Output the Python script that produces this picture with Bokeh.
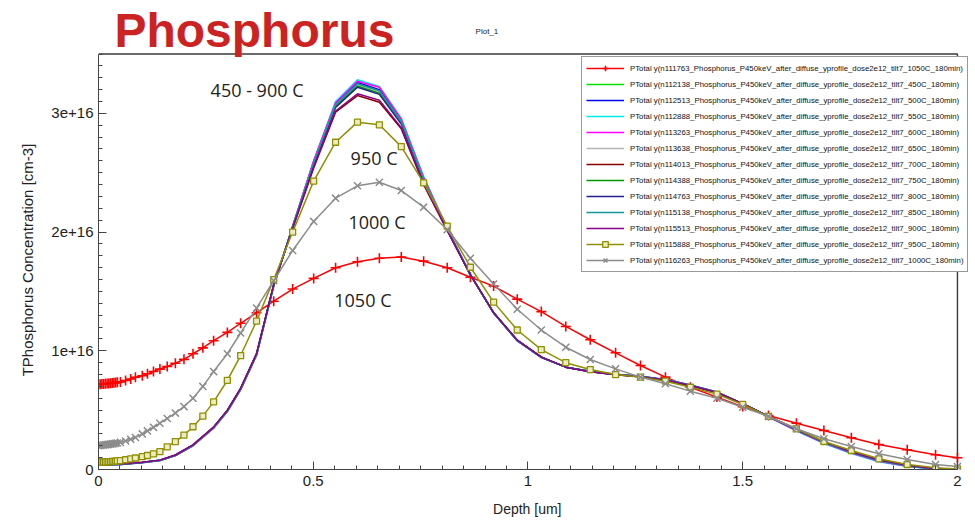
from bokeh.plotting import figure
from bokeh.models import FixedTicker, Label, Legend, LegendItem, ColumnDataSource
from bokeh.embed import file_html
from bokeh.resources import INLINE

# ---------------- data (concentration in units of 1e16 cm-3) ----------------
X_MESH = [0, 0.004, 0.008, 0.012, 0.016, 0.020, 0.024, 0.028, 0.032, 0.036, 0.040, 0.044,
          0.051, 0.063, 0.075, 0.086, 0.102, 0.114, 0.128, 0.143, 0.160, 0.179, 0.199,
          0.220, 0.243, 0.268, 0.300, 0.331, 0.368, 0.408, 0.452, 0.501, 0.552, 0.603,
          0.654, 0.705, 0.757, 0.812, 0.866, 0.920, 0.975, 1.031, 1.088, 1.145, 1.204,
          1.262, 1.320, 1.378, 1.440, 1.500, 1.560, 1.625, 1.689, 1.753, 1.817, 1.883,
          1.949, 2.000]

Y_1050 = [0.716, 0.718, 0.720, 0.721, 0.722, 0.724, 0.725, 0.727, 0.728, 0.730, 0.732, 0.734,
          0.738, 0.750, 0.763, 0.777, 0.790, 0.806, 0.826, 0.846, 0.868, 0.895, 0.928,
          0.975, 1.025, 1.085, 1.155, 1.232, 1.320, 1.418, 1.520, 1.610, 1.700, 1.750,
          1.780, 1.790, 1.755, 1.700, 1.620, 1.545, 1.435, 1.330, 1.205, 1.093, 0.983,
          0.876, 0.778, 0.693, 0.610, 0.530, 0.455, 0.390, 0.329, 0.267, 0.210, 0.166,
          0.124, 0.099]

Y_1000 = [0.200, 0.202, 0.204, 0.206, 0.208, 0.210, 0.212, 0.214, 0.216, 0.218, 0.221, 0.223,
          0.228, 0.240, 0.255, 0.270, 0.300, 0.325, 0.355, 0.390, 0.430, 0.475, 0.530,
          0.600, 0.700, 0.825, 0.975, 1.150, 1.360, 1.590, 1.845, 2.090, 2.286, 2.390,
          2.420, 2.350, 2.210, 2.020, 1.780, 1.563, 1.350, 1.175, 1.030, 0.927, 0.848,
          0.778, 0.722, 0.660, 0.600, 0.525, 0.447, 0.343, 0.259, 0.194, 0.132, 0.084,
          0.042, 0.025]

Y_950 = [0.060, 0.061, 0.062, 0.063, 0.064, 0.065, 0.066, 0.067, 0.068, 0.069, 0.070, 0.072,
         0.075, 0.082, 0.090, 0.097, 0.108, 0.118, 0.132, 0.150, 0.190, 0.235, 0.290,
         0.360, 0.450, 0.570, 0.750, 0.960, 1.250, 1.600, 2.000, 2.430, 2.757, 2.926,
         2.904, 2.720, 2.415, 2.050, 1.704, 1.410, 1.175, 1.010, 0.900, 0.842, 0.800,
         0.778, 0.744, 0.693, 0.635, 0.548, 0.447, 0.343, 0.236, 0.160, 0.090, 0.042,
         0.014, 0.005]

X_GROUP = [0, 0.051, 0.102, 0.143, 0.179, 0.220, 0.268, 0.300, 0.331, 0.368, 0.408, 0.452,
           0.501, 0.552, 0.603, 0.654, 0.705, 0.757, 0.812, 0.866, 0.920, 0.975, 1.031,
           1.088, 1.145, 1.204, 1.262, 1.320, 1.378, 1.440, 1.500, 1.560, 1.625, 1.689,
           1.753, 1.817, 1.883, 1.949, 2.000]

Y_450 = [0.038, 0.043, 0.058, 0.076, 0.118, 0.202, 0.350, 0.490, 0.675, 0.965, 1.550, 2.045, 2.590, 3.080, 3.250, 3.190, 2.930, 2.450, 2.025, 1.640, 1.318, 1.085, 0.945, 0.862, 0.826, 0.801, 0.784, 0.756, 0.710, 0.652, 0.553, 0.446, 0.332, 0.227, 0.143, 0.073, 0.031, 0.005, 0.000]
Y_500 = [0.038, 0.043, 0.058, 0.076, 0.118, 0.202, 0.350, 0.490, 0.675, 0.965, 1.550, 2.048, 2.595, 3.085, 3.260, 3.200, 2.940, 2.455, 2.028, 1.641, 1.319, 1.085, 0.945, 0.862, 0.826, 0.801, 0.784, 0.757, 0.711, 0.653, 0.553, 0.445, 0.330, 0.225, 0.141, 0.071, 0.030, 0.004, 0.000]
Y_550 = [0.037, 0.042, 0.057, 0.075, 0.117, 0.200, 0.348, 0.488, 0.672, 0.962, 1.545, 2.050, 2.600, 3.100, 3.283, 3.227, 2.960, 2.470, 2.032, 1.642, 1.318, 1.084, 0.944, 0.862, 0.827, 0.802, 0.785, 0.758, 0.712, 0.653, 0.552, 0.442, 0.325, 0.218, 0.134, 0.066, 0.026, 0.003, 0.000]
Y_600 = [0.037, 0.042, 0.057, 0.075, 0.117, 0.200, 0.348, 0.488, 0.672, 0.962, 1.545, 2.050, 2.600, 3.090, 3.270, 3.220, 2.950, 2.460, 2.030, 1.642, 1.318, 1.084, 0.944, 0.862, 0.827, 0.802, 0.785, 0.758, 0.712, 0.653, 0.553, 0.444, 0.328, 0.222, 0.138, 0.069, 0.028, 0.004, 0.000]
Y_650 = [0.039, 0.044, 0.059, 0.077, 0.119, 0.204, 0.352, 0.492, 0.678, 0.968, 1.555, 2.042, 2.580, 3.070, 3.245, 3.185, 2.930, 2.440, 2.024, 1.640, 1.319, 1.086, 0.946, 0.862, 0.825, 0.800, 0.783, 0.755, 0.709, 0.651, 0.553, 0.447, 0.334, 0.230, 0.146, 0.076, 0.034, 0.006, 0.000]
Y_700 = [0.041, 0.046, 0.061, 0.079, 0.122, 0.208, 0.358, 0.500, 0.686, 0.978, 1.560, 2.030, 2.540, 3.010, 3.150, 3.094, 2.870, 2.400, 2.012, 1.638, 1.322, 1.090, 0.948, 0.862, 0.824, 0.799, 0.782, 0.754, 0.707, 0.649, 0.554, 0.449, 0.337, 0.234, 0.150, 0.080, 0.037, 0.008, 0.000]
Y_750 = [0.040, 0.045, 0.060, 0.078, 0.120, 0.205, 0.355, 0.495, 0.680, 0.970, 1.555, 2.040, 2.570, 3.060, 3.230, 3.170, 2.920, 2.430, 2.020, 1.640, 1.320, 1.087, 0.946, 0.862, 0.825, 0.800, 0.783, 0.755, 0.708, 0.650, 0.553, 0.447, 0.334, 0.230, 0.146, 0.076, 0.034, 0.006, 0.000]
Y_800 = [0.040, 0.045, 0.060, 0.078, 0.121, 0.206, 0.356, 0.497, 0.682, 0.972, 1.556, 2.038, 2.570, 3.050, 3.220, 3.160, 2.910, 2.430, 2.018, 1.640, 1.321, 1.088, 0.947, 0.862, 0.825, 0.800, 0.783, 0.755, 0.708, 0.650, 0.554, 0.448, 0.335, 0.231, 0.147, 0.077, 0.035, 0.007, 0.000]
Y_850 = [0.039, 0.044, 0.059, 0.077, 0.119, 0.203, 0.352, 0.492, 0.678, 0.968, 1.552, 2.044, 2.580, 3.070, 3.250, 3.190, 2.930, 2.440, 2.024, 1.640, 1.319, 1.086, 0.945, 0.862, 0.826, 0.801, 0.784, 0.756, 0.709, 0.651, 0.553, 0.446, 0.333, 0.228, 0.144, 0.074, 0.032, 0.005, 0.000]
Y_900 = [0.041, 0.046, 0.061, 0.079, 0.122, 0.207, 0.357, 0.498, 0.684, 0.975, 1.558, 2.032, 2.550, 3.020, 3.165, 3.110, 2.880, 2.410, 2.015, 1.639, 1.321, 1.089, 0.947, 0.862, 0.824, 0.799, 0.782, 0.754, 0.707, 0.649, 0.554, 0.448, 0.336, 0.233, 0.149, 0.079, 0.036, 0.007, 0.000]

RUN_IDS = ["n111763", "n112138", "n112513", "n112888", "n113263", "n113638", "n114013",
           "n114388", "n114763", "n115138", "n115513", "n115888", "n116263"]
TEMPS = ["1050C", "450C", "500C", "550C", "600C", "650C", "700C", "750C", "800C",
         "850C", "900C", "950C", "1000C"]

Y_TICKS = [0, 1e16, 2e16, 3e16]
Y_TICK_LABELS = ["0", "1e+16", "2e+16", "3e+16"]
X_TICKS = [0, 0.5, 1, 1.5, 2]
X_TICK_LABELS = ["0", "0.5", "1", "1.5", "2"]

ANNOTATIONS = ["450 - 900 C", "950 C", "1000 C", "1050 C"]

# ---------------- figure ----------------
E16 = 1e16
NBSP = "\u00a0"
X_MAX, Y_MAX = 2.0, 3.5e16          # extent of the boxed plot area
# the canvas area above and right of the box also belongs to the frame so that
# the title, plot name and legend are not clipped
p = figure(width=975, height=521, x_range=(0, 2.042), y_range=(0, 3.951e16),
           output_backend="svg", toolbar_location=None,
           min_border_left=98, min_border_right=0, min_border_top=0, min_border_bottom=52)
p.background_fill_color = "white"
p.border_fill_color = "white"
p.outline_line_color = None
p.xgrid.visible = False
p.ygrid.visible = False

# top and right edges of the plot box (left/bottom are the axes)
p.line(x=[0, X_MAX, X_MAX], y=[Y_MAX, Y_MAX, 0],
       line_color="#3a3a3a", line_width=1.4)

for ax in (p.xaxis[0], p.yaxis[0]):
    ax.axis_line_color = "#444444"
    ax.major_tick_line_color = "#444444"
    ax.minor_tick_line_color = "#444444"
    ax.major_tick_in = 8
    ax.major_tick_out = 0
    ax.minor_tick_in = 4
    ax.minor_tick_out = 0
    ax.major_label_text_color = "#222222"
    ax.axis_label_text_color = "#222222"
    ax.axis_label_text_font_style = "normal"

p.xaxis.bounds = (0, X_MAX)
p.xaxis.ticker = FixedTicker(ticks=X_TICKS, minor_ticks=[i * 0.05 for i in range(41)])
p.xaxis.major_label_overrides = dict(zip(X_TICKS, X_TICK_LABELS))
p.xaxis.major_label_text_font = "Liberation Sans"
p.xaxis.major_label_text_font_size = "15px"
p.xaxis.major_label_standoff = 6
# trailing no-break spaces keep the label centred under the boxed area
p.xaxis.axis_label = "Depth [um]" + NBSP * 5
p.xaxis.axis_label_text_font = "Liberation Sans"
p.xaxis.axis_label_text_font_size = "14px"
p.xaxis.axis_label_standoff = 12

p.yaxis.bounds = (0, Y_MAX)
p.yaxis.ticker = FixedTicker(ticks=Y_TICKS, minor_ticks=[i * 0.1e16 for i in range(36)])
p.yaxis.major_label_overrides = dict(zip(Y_TICKS, Y_TICK_LABELS))
p.yaxis.major_label_text_font = "Liberation Sans"
p.yaxis.major_label_text_font_size = "15px"
p.yaxis.major_label_standoff = 5
p.yaxis.axis_label = "TPhosphorus Concentration [cm-3]" + NBSP * 12
p.yaxis.axis_label_text_font = "Liberation Sans"
p.yaxis.axis_label_text_font_size = "15px"
p.yaxis.axis_label_standoff = 12

group_series = [
    (Y_450, "#00e000"), (Y_500, "#0000ee"), (Y_550, "#00eeee"), (Y_600, "#ff00ff"),
    (Y_650, "#b4b4b4"), (Y_700, "#8b0000"), (Y_750, "#009900"), (Y_800, "#22228f"),
    (Y_850, "#119999"), (Y_900, "#8b008b"),
]

def lab(i):
    return "PTotal y(%s_Phosphorus_P450keV_after_diffuse_yprofile_dose2e12_tilt7_%s_180min)" % (RUN_IDS[i], TEMPS[i])

items = []

# 1050 C (red, plus markers)
src = ColumnDataSource(dict(x=X_MESH, y=[v * E16 for v in Y_1050]))
r1 = p.line("x", "y", source=src, line_color="#ff0000", line_width=1.5)
r2 = p.scatter("x", "y", source=src, marker="cross", size=10, line_color="#ff0000", line_width=1.6)
items.append(LegendItem(label=lab(0), renderers=[r1, r2]))

for k, (ys, col) in enumerate(group_series):
    s = ColumnDataSource(dict(x=X_GROUP, y=[v * E16 for v in ys]))
    r = p.line("x", "y", source=s, line_color=col, line_width=1.5)
    items.append(LegendItem(label=lab(k + 1), renderers=[r]))

# 950 C (olive, square markers)
src = ColumnDataSource(dict(x=X_MESH, y=[v * E16 for v in Y_950]))
r1 = p.line("x", "y", source=src, line_color="#8f8f00", line_width=1.5)
r2 = p.scatter("x", "y", source=src, marker="square", size=6, line_color="#8f8f00",
               fill_color="#ececc4", line_width=1.3)
items.append(LegendItem(label=lab(11), renderers=[r1, r2]))

# 1000 C (gray, x markers)
src = ColumnDataSource(dict(x=X_MESH, y=[v * E16 for v in Y_1000]))
r1 = p.line("x", "y", source=src, line_color="#8c8c8c", line_width=1.5)
r2 = p.scatter("x", "y", source=src, marker="x", size=10, line_color="#8c8c8c", line_width=1.5)
items.append(LegendItem(label=lab(12), renderers=[r1, r2]))

legend = Legend(items=items, location=(483, 197), orientation="vertical",
                label_text_font="Liberation Sans", label_text_font_size="7.8px",
                label_text_color="#111111",
                glyph_width=38, glyph_height=14, label_height=14, spacing=2,
                padding=4, margin=0, label_standoff=6,
                border_line_color="#333333", border_line_width=1,
                background_fill_color="white", background_fill_alpha=1)
p.add_layout(legend)

# text annotations on the plot
ann_pos = [(0.261, 3.193), (0.587, 2.62), (0.582, 2.081), (0.549, 1.424)]
for t, (ax_, ay_) in zip(ANNOTATIONS, ann_pos):
    p.add_layout(Label(x=ax_, y=ay_ * E16, text=t, text_font="Open Sans",
                       text_font_size="18px", text_color="#222222",
                       text_baseline="middle", text_align="left"))

# title and plot name above the box
p.add_layout(Label(x=0.037, y=3.695e16, text="Phosphorus", text_font="Liberation Sans",
                   text_font_style="bold", text_font_size="48px", text_color="#cc2222",
                   text_baseline="alphabetic", text_align="left"))
p.add_layout(Label(x=0.878, y=3.69e16, text="Plot_1", text_font="Liberation Sans",
                   text_font_size="8px", text_color="#222222",
                   text_baseline="middle", text_align="left"))

open("out.html", "w").write(file_html(p, INLINE))
